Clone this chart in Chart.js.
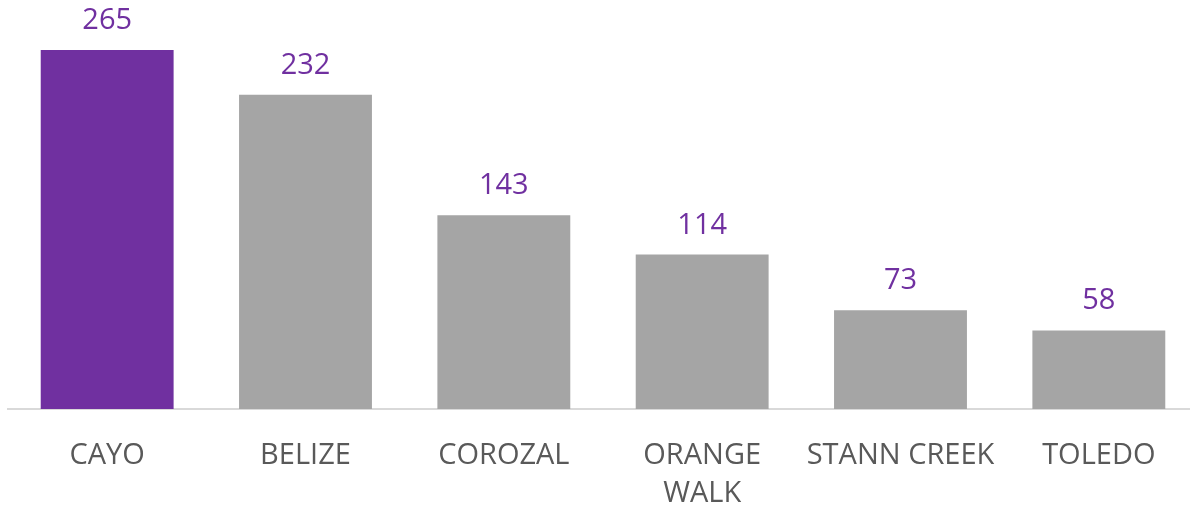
<!DOCTYPE html>
<html lang="en">
	<head>
		<meta charset="UTF-8">
		<script src="https://cdn.jsdelivr.net/npm/chart.js@4/dist/chart.umd.min.js"></script>
		<title>Districts</title>
		<style>
			html, body { margin: 0; padding: 0; background: #fff; overflow: hidden; }
			#wrap { position: relative; width: 1198px; height: 541px; }
		</style>
	</head>
	<body>
		<div id="wrap">
			<canvas id="bar-chart"></canvas>
		</div>
		<script>
			// data
			var districts = ["CAYO", "BELIZE", "COROZAL", ["ORANGE", "WALK"], "STANN CREEK", "TOLEDO"];
			var counts = [265, 232, 143, 114, 73, 58];
			var barColours = ["#7030A0", "#A5A5A5", "#A5A5A5", "#A5A5A5", "#A5A5A5", "#A5A5A5"];

			// draws the number above each bar
			var valueLabels = {
				id: "valueLabels",
				afterDatasetsDraw: function(chart) {
					var ctx = chart.ctx;
					var meta = chart.getDatasetMeta(0);
					ctx.save();
					ctx.font = "29px 'Open Sans'";
					ctx.fillStyle = "#7030A0";
					ctx.textAlign = "center";
					ctx.textBaseline = "alphabetic";
					meta.data.forEach(function(bar, i) {
						ctx.fillText(counts[i], bar.x, bar.y - 21);
					});
					ctx.restore();
				}
			};

			new Chart(document.getElementById("bar-chart"), {
				type: "bar",
				data: {
					labels: districts,
					datasets: [{
						data: counts,
						backgroundColor: barColours,
						barPercentage: 0.67,
						categoryPercentage: 1
					}]
				},
				options: {
					responsive: true,
					maintainAspectRatio: false,
					animation: false,
					layout: { padding: { left: 8, right: 0, top: 0, bottom: 0 } },
					plugins: { legend: { display: false }, tooltip: { enabled: false } },
					scales: {
						x: {
							grid: { display: false, drawTicks: false },
							border: { color: "#D9D9D9", width: 2 },
							ticks: {
								color: "#595959",
								padding: 28,
								font: { family: "'Open Sans'", size: 29, lineHeight: 1.31 },
								maxRotation: 0,
								autoSkip: false
							}
						},
						y: {
							display: false,
							min: 0,
							max: 302
						}
					}
				},
				plugins: [valueLabels]
			});
		</script>
	</body>
</html>
